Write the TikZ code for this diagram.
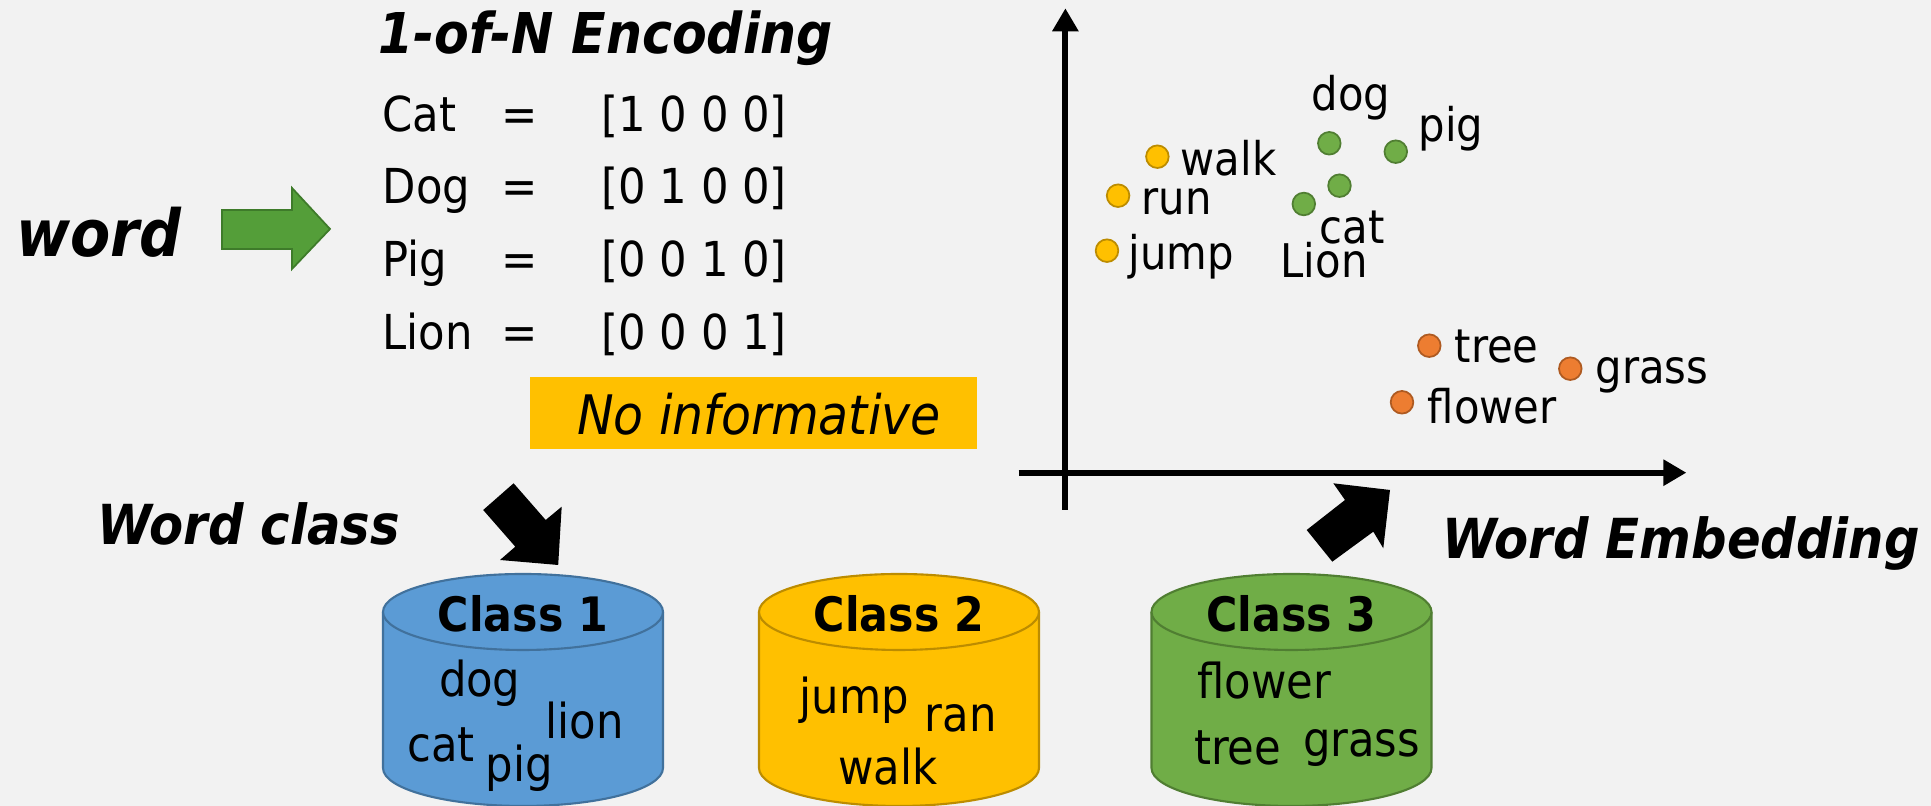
\documentclass[tikz,border=0pt]{standalone}
\usepackage{fontspec}
\setmainfont{DejaVu Sans Condensed}[BoldFont={DejaVu Sans Condensed Bold}, ItalicFont={DejaVu Sans Condensed Oblique}, BoldItalicFont={DejaVu Sans Condensed Bold Oblique}]
\usetikzlibrary{arrows.meta, positioning}
\definecolor{sfondo}{HTML}{F2F2F2}
\definecolor{blu}{HTML}{5B9BD5}
\definecolor{bluscuro}{HTML}{41719C}
\definecolor{giallo}{HTML}{FFC000}
\definecolor{gialloscuro}{HTML}{BC8C00}
\definecolor{verde}{HTML}{70AD47}
\definecolor{verdescuro}{HTML}{507E32}
\definecolor{arancio}{HTML}{ED7D31}
\definecolor{arancioscuro}{HTML}{AE5A21}
\definecolor{freccia}{HTML}{549E39}
\definecolor{frecciascuro}{HTML}{3E7B2A}

\begin{document}
\begin{tikzpicture}[x=0.1mm, y=-0.1mm,
    testo/.style={inner sep=0pt, anchor=base west, font=\fontsize{13.7}{16}\selectfont},
    etichetta/.style={inner sep=0pt, anchor=base west, font=\fontsize{13.2}{16}\selectfont},
    titolo/.style={inner sep=0pt, anchor=base west, font=\fontsize{15.7}{19}\selectfont\bfseries\itshape},
    classe/.style={inner sep=0pt, anchor=base, font=\fontsize{13.5}{16}\selectfont\bfseries},
    punto/.style={circle, inner sep=0pt, minimum size=2.26mm, line width=0.5pt},
    asse/.style={line width=0.6mm, -{Triangle[length=2.3mm, width=2.5mm]}}]
    % Sfondo
    \fill[sfondo] (0,0) rectangle (1931,806);
    \useasboundingbox (0,0) rectangle (1931,806);
    % Parametri
    \pgfmathsetmacro{\rx}{140}
    \pgfmathsetmacro{\ry}{38}
    \pgfmathsetmacro{\ytop}{612}
    \pgfmathsetmacro{\ybot}{768}

    % word e freccia verde
    \node[titolo, font=\fontsize{18.5}{22}\selectfont\bfseries\itshape] (word) at (16,256.7) {word};
    \coordinate (v1) at (222,210);
    \coordinate (v2) at (292,210);
    \coordinate (v3) at (292,188);
    \coordinate (v4) at (330,229);
    \coordinate (v5) at (292,269);
    \coordinate (v6) at (292,249);
    \coordinate (v7) at (222,249);
    \filldraw[fill=freccia, draw=frecciascuro, line width=0.5pt] (v1) -- (v2) -- (v3) -- (v4) -- (v5) -- (v6) -- (v7) -- cycle;

    % 1-of-N
    \node[titolo, font=\fontsize{16}{19}\selectfont\bfseries\itshape] (enc) at (378,53.3) {1-of-N Encoding};
    \foreach \nome/\vett/\y [count=\i] in {Cat/{[1 0 0 0]}/131.7, Dog/{[0 1 0 0]}/204, Pig/{[0 0 1 0]}/276.7, Lion/{[0 0 0 1]}/349.3}{
        \node[testo] (nome\i) at (382,\y) {\nome};
        \node[testo, anchor=base] (uguale\i) at (520,\y) {=};
        \node[testo] (vett\i) at (601,\y) {\vett};
    }
    \fill[giallo] (530,377.3) rectangle (976.6,449.3);
    \node[inner sep=0pt, anchor=base, font=\fontsize{15.5}{18}\selectfont\itshape] (noinfo) at (759,435) {No informative};

    % Word class
    \node[titolo] (wclass) at (97,545) {Word class};
    \coordinate (a1) at (513.6,483.3);
    \coordinate (a2) at (545.7,520);
    \coordinate (a3) at (561.7,506.7);
    \coordinate (a4) at (558.2,565);
    \coordinate (a5) at (500,560);
    \coordinate (a6) at (515.3,546.7);
    \coordinate (a7) at (483.2,510);
    \fill (a1) -- (a2) -- (a3) -- (a4) -- (a5) -- (a6) -- (a7) -- cycle;

    % Cilindri
    \foreach \cx/\col/\bor/\n in {523/blu/bluscuro/1, 899/giallo/gialloscuro/2, 1291.5/verde/verdescuro/3}{
        \fill[\col] ({\cx-\rx},\ytop) -- ({\cx-\rx},\ybot) arc[start angle=180, end angle=0, x radius=\rx, y radius=\ry] -- ({\cx+\rx},\ytop) -- cycle;
        \draw[\bor, line width=0.6pt] ({\cx-\rx},\ytop) -- ({\cx-\rx},\ybot) arc[start angle=180, end angle=0, x radius=\rx, y radius=\ry] -- ({\cx+\rx},\ytop);
        \filldraw[fill=\col, draw=\bor, line width=0.6pt] (\cx,\ytop) ellipse[x radius=\rx, y radius=\ry];
        \node[classe] (classe\n) at (\cx,631.7) {Class \n};
    }
    \node[testo] (c1dog) at (438.3,696.7) {dog};
    \node[testo] (c1lion) at (545,738.3) {lion};
    \node[testo] (c1cat) at (406.7,761.7) {cat};
    \node[testo] (c1pig) at (485,781.7) {pig};
    \node[testo] (c2jump) at (799,713.3) {jump};
    \node[testo] (c2ran) at (924,731.7) {ran};
    \node[testo] (c2walk) at (837.7,785) {walk};
    \node[testo] (c3flower) at (1196.7,698.3) {flower};
    \node[testo] (c3tree) at (1193.3,765) {tree};
    \node[testo] (c3grass) at (1302.3,756.7) {grass};

    % Assi
    \coordinate (xsx) at (1018.5,472.7);
    \coordinate (xdx) at (1686.4,472.7);
    \coordinate (ybas) at (1065.4,510);
    \coordinate (yalt) at (1065.4,8.3);
    \draw[asse] (xsx) -- (xdx);
    \draw[asse] (ybas) -- (yalt);

    % Word Embedding
    \node[titolo] (wemb) at (1442,558.3) {Word Embedding};
    \coordinate (b1) at (1390,490);
    \coordinate (b2) at (1333.3,483.3);
    \coordinate (b3) at (1345,500);
    \coordinate (b4) at (1306.7,530);
    \coordinate (b5) at (1332.3,561.7);
    \coordinate (b6) at (1373.3,531.7);
    \coordinate (b7) at (1383.3,548.3);
    \fill (b1) -- (b2) -- (b3) -- (b4) -- (b5) -- (b6) -- (b7) -- cycle;

    % Punti
    \node[punto, fill=giallo, draw=gialloscuro] (pwalk) at (1157.4,156.7) {};
    \node[punto, fill=giallo, draw=gialloscuro] (prun) at (1118.1,195.7) {};
    \node[punto, fill=giallo, draw=gialloscuro] (pjump) at (1107,250.7) {};
    \node[punto, fill=verde, draw=verdescuro] (pdog) at (1329.3,143.3) {};
    \node[punto, fill=verde, draw=verdescuro] (ppig) at (1395.8,151.7) {};
    \node[punto, fill=verde, draw=verdescuro] (pcat) at (1339.5,185.7) {};
    \node[punto, fill=verde, draw=verdescuro] (plion) at (1303.8,204) {};
    \node[punto, fill=arancio, draw=arancioscuro] (ptree) at (1429.3,345.7) {};
    \node[punto, fill=arancio, draw=arancioscuro] (pgrass) at (1570.3,368.7) {};
    \node[punto, fill=arancio, draw=arancioscuro] (pflower) at (1402,402.3) {};
    \node[etichetta] (ewalk) at (1180,176) {walk};
    \node[etichetta] (erun) at (1141,215) {run};
    \node[etichetta] (ejump) at (1128,270) {jump};
    \node[etichetta] (edog) at (1311,111) {dog};
    \node[etichetta] (epig) at (1418,141.7) {pig};
    \node[etichetta] (ecat) at (1319,243.3) {cat};
    \node[etichetta] (elion) at (1280,278) {Lion};
    \node[etichetta] (etree) at (1454,362.7) {tree};
    \node[etichetta] (egrass) at (1595,383.3) {grass};
    \node[etichetta] (eflower) at (1427,423.3) {flower};
\end{tikzpicture}
\end{document}
